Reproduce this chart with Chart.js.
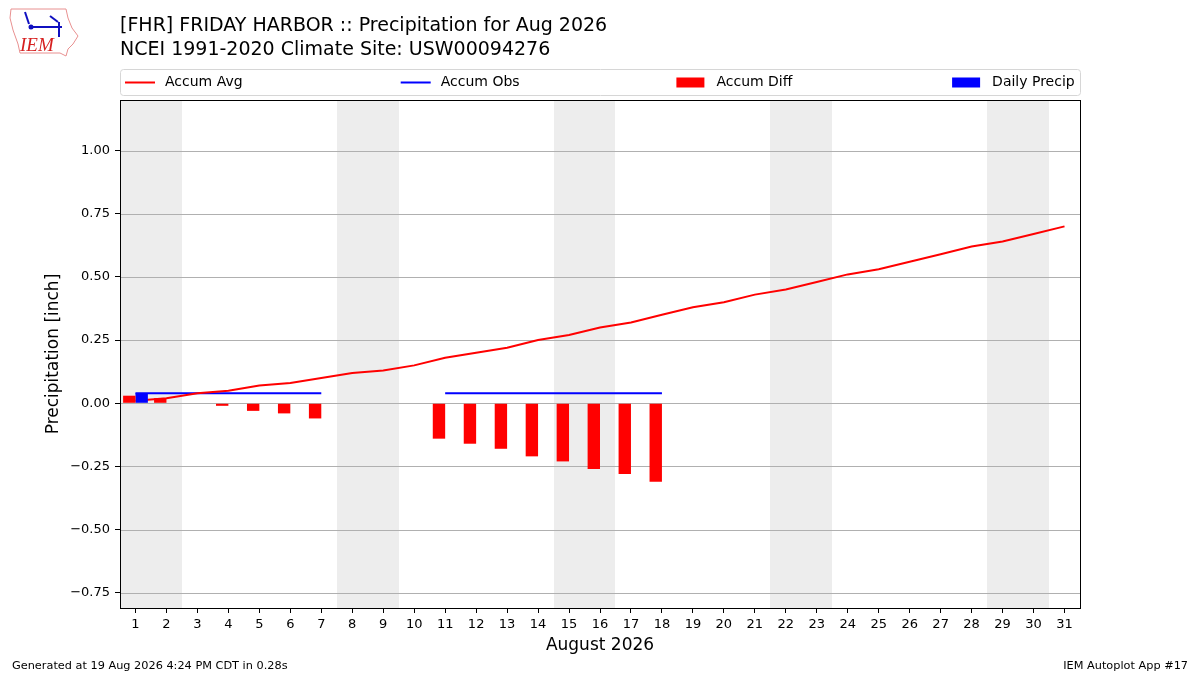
<!DOCTYPE html>
<html>
<head>
<meta charset="utf-8">
<script src="https://cdn.jsdelivr.net/npm/chart.js@4.4.1/dist/chart.umd.min.js"></script>
<style>
  html, body { margin: 0; padding: 0; background: #fff; }
  #wrap { position: relative; width: 1200px; height: 675px; }
</style>
</head>
<body>
<div id="wrap"><canvas id="myChart" width="1200" height="675"></canvas></div>
<script>
// values
var days = [1,2,3,4,5,6,7,8,9,10,11,12,13,14,15,16,17,18,19,20,21,22,23,24,25,26,27,28,29,30,31];
var accumAvg = [0.01,0.02,0.04,0.05,0.07,0.08,0.10,0.12,0.13,0.15,0.18,0.20,0.22,0.25,0.27,0.30,
                0.32,0.35,0.38,0.40,0.43,0.45,0.48,0.51,0.53,0.56,0.59,0.62,0.64,0.67,0.70];
var accumObs = [0.04,0.04,0.04,0.04,0.04,0.04,0.04,null,null,null,0.04,0.04,0.04,0.04,0.04,0.04,
                0.04,0.04,null,null,null,null,null,null,null,null,null,null,null,null,null];
var accumDiff = [0.03,0.02,0.00,-0.01,-0.03,-0.04,-0.06,null,null,null,-0.14,-0.16,-0.18,-0.21,-0.23,-0.26,
                 -0.28,-0.31,null,null,null,null,null,null,null,null,null,null,null,null,null];
var dailyPrecip = [0.04,0,0,0,0,0,0,null,null,null,0,0,0,0,0,0,
                   0,0,null,null,null,null,null,null,null,null,null,null,null,null,null];
var weekendDays = [1,2,8,9,15,16,22,23,29,30];
var yTicks = [-0.75,-0.50,-0.25,0.00,0.25,0.50,0.75,1.00];

var titleLines = ['[FHR] FRIDAY HARBOR :: Precipitation for Aug 2026',
                  'NCEI 1991-2020 Climate Site: USW00094276'];
var footLeft = 'Generated at 19 Aug 2026 4:24 PM CDT in 0.28s';
var footRight = 'IEM Autoplot App #17';

Chart.defaults.font.family = '"DejaVu Sans", sans-serif';
Chart.defaults.color = '#000';

pts = function (arr) {
  return days.map(function (d, i) { return {x: d, y: arr[i]}; });
};

fmtTick = function (v) {
  return v.toFixed(2).replace('-', '\u2212');
};

// weekend shading and horizontal grid, under the data
var bandsPlugin = {
  id: 'bands',
  beforeDatasetsDraw: function (chart) {
    var ctx = chart.ctx, xs = chart.scales.x, ys = chart.scales.y, a = chart.chartArea;
    ctx.save();
    ctx.fillStyle = '#ededed';
    weekendDays.forEach(function (d) {
      if (weekendDays.indexOf(d - 1) >= 0) return;
      var end = d;
      while (weekendDays.indexOf(end + 1) >= 0) end++;
      var x0 = Math.round(Math.max(xs.getPixelForValue(d - 0.5), a.left));
      var x1 = Math.round(Math.min(xs.getPixelForValue(end + 0.5), a.right));
      ctx.fillRect(x0, a.top, x1 - x0, a.bottom - a.top);
    });
    ctx.strokeStyle = '#b0b0b0';
    ctx.lineWidth = 1;
    yTicks.forEach(function (v) {
      var y = Math.round(ys.getPixelForValue(v)) + 0.5;
      ctx.beginPath(); ctx.moveTo(a.left, y); ctx.lineTo(a.right, y); ctx.stroke();
    });
    ctx.restore();
  }
};

// titles, legend, frame, footer, logo
var decoPlugin = {
  id: 'deco',
  afterDraw: function (chart) {
    var ctx = chart.ctx, a = chart.chartArea;
    ctx.save();
    ctx.strokeStyle = '#000';
    ctx.lineWidth = 1;
    ctx.strokeRect(Math.round(a.left) + 0.5, Math.round(a.top) + 0.5,
                   Math.round(a.right - a.left), Math.round(a.bottom - a.top));

    // title
    ctx.fillStyle = '#000';
    ctx.font = '19px "DejaVu Sans"';
    ctx.textAlign = 'left';
    ctx.textBaseline = 'alphabetic';
    ctx.fillText(titleLines[0], 120, 31);
    ctx.fillText(titleLines[1], 120, 55);

    // legend box
    var lx = a.left, ly = 69, lw = a.right - a.left, lh = 26;
    ctx.strokeStyle = '#d6d6d6';
    ctx.beginPath();
    ctx.roundRect(lx + 0.5, ly + 0.5, lw, lh, 3);
    ctx.fillStyle = 'rgba(255,255,255,0.8)';
    ctx.fill();
    ctx.stroke();
    ctx.font = '14px "DejaVu Sans"';
    ctx.textBaseline = 'middle';
    var cy = ly + lh / 2 + 0.5;
    var colW = 275.7;
    chart.data.datasets.forEach(function (ds) {
      var i = ds.legendPos;
      var hx = lx + 5 + i * colW;
      if (ds.type === 'line') {
        ctx.strokeStyle = ds.borderColor;
        ctx.lineWidth = 2;
        ctx.beginPath(); ctx.moveTo(hx, cy); ctx.lineTo(hx + 30, cy); ctx.stroke();
      } else {
        ctx.fillStyle = ds.backgroundColor;
        ctx.fillRect(hx, cy - 5, 28, 10);
      }
      ctx.fillStyle = '#000';
      ctx.fillText(ds.label, hx + 40, cy);
    });

    // footer
    ctx.font = '11.3px "DejaVu Sans"';
    ctx.textBaseline = 'alphabetic';
    ctx.textAlign = 'left';
    ctx.fillText(footLeft, 12, 669);
    ctx.textAlign = 'right';
    ctx.fillText(footRight, 1188, 669);

    // logo
    ctx.strokeStyle = '#e89090';
    ctx.lineWidth = 1;
    ctx.beginPath();
    ctx.moveTo(11, 9); ctx.lineTo(66, 9); ctx.lineTo(68, 18); ctx.lineTo(72, 28);
    ctx.lineTo(78, 36); ctx.lineTo(73, 44); ctx.lineTo(68, 49); ctx.lineTo(66, 56);
    ctx.lineTo(60, 53); ctx.lineTo(20, 53); ctx.lineTo(18, 44); ctx.lineTo(13, 30);
    ctx.lineTo(10, 18); ctx.closePath(); ctx.stroke();
    ctx.strokeStyle = '#1010c0';
    ctx.lineWidth = 2;
    ctx.beginPath(); ctx.moveTo(30, 27); ctx.lineTo(62, 27); ctx.stroke();
    ctx.beginPath(); ctx.moveTo(25, 12); ctx.lineTo(29, 24); ctx.stroke();
    ctx.beginPath(); ctx.moveTo(50, 16); ctx.lineTo(58, 22); ctx.stroke();
    ctx.beginPath(); ctx.moveTo(59, 22); ctx.lineTo(59, 37); ctx.stroke();
    ctx.fillStyle = '#1010c0';
    ctx.beginPath(); ctx.arc(31, 27, 2.5, 0, Math.PI * 2); ctx.fill();
    ctx.fillStyle = '#d62020';
    ctx.font = 'italic 19px "Liberation Serif"';
    ctx.textAlign = 'left';
    ctx.fillText('IEM', 20, 51);
    ctx.restore();
  }
};

displayChart = function () {
  new Chart(document.getElementById('myChart').getContext('2d'), {
    type: 'bar',
    data: {
      datasets: [
        { type: 'line', label: 'Accum Avg', legendPos: 0, data: pts(accumAvg),
          borderColor: '#ff0000', borderWidth: 2, pointRadius: 0, tension: 0, order: 2 },
        { type: 'line', label: 'Accum Obs', legendPos: 1, data: pts(accumObs),
          borderColor: '#0000ff', borderWidth: 2, pointRadius: 0, tension: 0, spanGaps: false, order: 2 },
        { type: 'bar', label: 'Accum Diff', legendPos: 2, data: pts(accumDiff),
          backgroundColor: '#ff0000', categoryPercentage: 0.8, barPercentage: 1.0, order: 1 },
        { type: 'bar', label: 'Daily Precip', legendPos: 3, data: pts(dailyPrecip),
          backgroundColor: '#0000ff', categoryPercentage: 0.8, barPercentage: 1.0, order: 1 }
      ]
    },
    options: {
      responsive: false,
      animation: false,
      devicePixelRatio: 1,
      layout: { padding: { left: 40, right: 120, top: 100, bottom: 15 } },
      plugins: { legend: { display: false }, tooltip: { enabled: false } },
      scales: {
        x: {
          type: 'linear', min: 0.5, max: 31.5, offset: false,
          afterBuildTicks: function (s) { s.ticks = days.map(function (d) { return {value: d}; }); },
          afterFit: function (s) { s.height = 52; },
          grid: { offset: false, drawOnChartArea: false, drawTicks: true, tickLength: 5, color: '#000' },
          border: { color: '#000' },
          ticks: { font: { size: 13 }, padding: 4, maxRotation: 0, autoSkip: false,
                   callback: function (v) { return String(v); } },
          title: { display: true, text: 'August 2026', font: { size: 17 }, padding: { top: 2, bottom: 4 } }
        },
        y: {
          min: -0.81, max: 1.2,
          afterBuildTicks: function (s) { s.ticks = yTicks.map(function (v) { return {value: v}; }); },
          afterFit: function (s) { s.width = 80; },
          grid: { drawOnChartArea: false, drawTicks: true, tickLength: 5, color: '#000' },
          border: { color: '#000' },
          ticks: { font: { size: 13 }, padding: 5, callback: function (v) { return fmtTick(v); } },
          title: { display: true, text: 'Precipitation [inch]', font: { size: 17 }, padding: 3 }
        }
      }
    },
    plugins: [bandsPlugin, decoPlugin]
  });
};

displayChart();
</script>
</body>
</html>
